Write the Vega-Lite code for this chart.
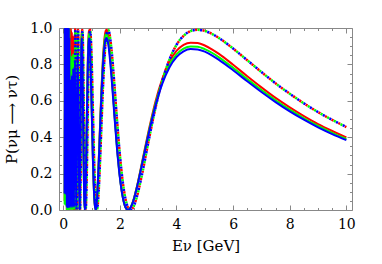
{
"$schema":"https://vega.github.io/schema/vega-lite/v6.json",
"width":293,"height":182,
"autosize":{"type":"none"},
"padding":{"left":59,"top":28,"right":30,"bottom":54},
"background":"white",
"config":{"font":"DejaVu Serif","view":{"stroke":"#888888","strokeWidth":1},
"axis":{"grid":false,"domain":false,"tickColor":"#888888","tickWidth":1,"labelFont":"DejaVu Serif","titleFont":"DejaVu Serif","labelColor":"black","titleColor":"black","labelFontSize":14,"titleFontSize":15,"titleFontWeight":"normal","labelFlush":false,"labelOverlap":false}},
"resolve":{"axis":{"x":"independent","y":"independent"}},
"datasets":{
"solid":[
{"E":0.05,"red":0.05,"green":0.03,"blue":0.09},
{"E":0.055,"red":1,"green":1,"blue":1},
{"E":0.06,"red":0.05,"green":0.03,"blue":0.09},
{"E":0.065,"red":1,"green":1,"blue":1},
{"E":0.07,"red":0.05,"green":0.03,"blue":0.09},
{"E":0.075,"red":1,"green":1,"blue":1},
{"E":0.08,"red":0.05,"green":0.03,"blue":0.09},
{"E":0.085,"red":1,"green":1,"blue":1},
{"E":0.09,"red":0.05,"green":0.03,"blue":0.09},
{"E":0.095,"red":1,"green":1,"blue":1},
{"E":0.1,"red":0.05,"green":0.03,"blue":0.09},
{"E":0.105,"red":1,"green":1,"blue":1},
{"E":0.109,"red":0.05,"green":0.03,"blue":0.09},
{"E":0.1116,"red":1,"green":1,"blue":1},
{"E":0.1144,"red":0.05,"green":0.03,"blue":0.09},
{"E":0.1174,"red":1,"green":1,"blue":1},
{"E":0.1205,"red":0.05,"green":0.03,"blue":0.09},
{"E":0.1237,"red":1,"green":1,"blue":1},
{"E":0.1271,"red":0,"green":0,"blue":0.015},
{"E":0.1308,"red":1,"green":1,"blue":1},
{"E":0.1346,"red":0,"green":0,"blue":0.015},
{"E":0.1387,"red":1,"green":1,"blue":1},
{"E":0.143,"red":0,"green":0,"blue":0.015},
{"E":0.1477,"red":1,"green":1,"blue":1},
{"E":0.1526,"red":0,"green":0,"blue":0.015},
{"E":0.1578,"red":1,"green":1,"blue":1},
{"E":0.1635,"red":0,"green":0,"blue":0.015},
{"E":0.1695,"red":1,"green":1,"blue":1},
{"E":0.1761,"red":0,"green":0,"blue":0.015},
{"E":0.1831,"red":1,"green":1,"blue":1},
{"E":0.1907,"red":0,"green":0,"blue":0.015},
{"E":0.199,"red":1,"green":1,"blue":1},
{"E":0.2081,"red":0,"green":0,"blue":0.015},
{"E":0.218,"red":1,"green":1,"blue":0.95},
{"E":0.2289,"red":0,"green":0,"blue":0.015},
{"E":0.2409,"red":1,"green":0.88,"blue":0.72},
{"E":0.2543,"red":0,"green":0,"blue":0.015},
{"E":0.2693,"red":1,"green":0.85,"blue":0.7},
{"E":0.2861,"red":0,"green":0,"blue":0.015},
{"E":0.3052,"red":0.98,"green":0.84,"blue":0.74},
{"E":0.3269,"red":0,"green":0,"blue":0.015},
{"E":0.3521,"red":0.96,"green":0.86,"blue":0.78},
{"E":0.3814,"red":0,"green":0,"blue":0.015},
{"E":0.4161,"red":1,"green":0.88,"blue":0.82},
{"E":0.4577,"red":0,"green":0,"blue":0.015},
{"E":0.5086,"red":0.95,"green":0.88,"blue":0.85},
{"E":0.572,"red":0,"green":0,"blue":0},
{"E":0.58,"red":0.028,"green":0.028,"blue":0.027},
{"E":0.6,"red":0.299,"green":0.293,"blue":0.285},
{"E":0.62,"red":0.674,"green":0.661,"blue":0.644},
{"E":0.64,"red":0.935,"green":0.916,"blue":0.892},
{"E":0.655,"red":0.99,"green":0.97,"blue":0.945},
{"E":0.68,"red":0.824,"green":0.807,"blue":0.786},
{"E":0.7,"red":0.555,"green":0.544,"blue":0.53},
{"E":0.72,"red":0.28,"green":0.275,"blue":0.268},
{"E":0.74,"red":0.082,"green":0.08,"blue":0.078},
{"E":0.763,"red":0,"green":0,"blue":0},
{"E":0.78,"red":0.042,"green":0.041,"blue":0.04},
{"E":0.81,"red":0.269,"green":0.263,"blue":0.256},
{"E":0.84,"red":0.574,"green":0.562,"blue":0.548},
{"E":0.87,"red":0.833,"green":0.816,"blue":0.795},
{"E":0.9,"red":0.972,"green":0.952,"blue":0.928},
{"E":0.92,"red":0.989,"green":0.969,"blue":0.944},
{"E":0.95,"red":0.912,"green":0.893,"blue":0.87},
{"E":1.0,"red":0.614,"green":0.602,"blue":0.586},
{"E":1.05,"red":0.283,"green":0.278,"blue":0.27},
{"E":1.1,"red":0.062,"green":0.061,"blue":0.059},
{"E":1.144,"red":0,"green":0,"blue":0},
{"E":1.17,"red":0.019,"green":0.018,"blue":0.018},
{"E":1.2,"red":0.081,"green":0.08,"blue":0.078},
{"E":1.25,"red":0.254,"green":0.249,"blue":0.242},
{"E":1.3,"red":0.462,"green":0.452,"blue":0.441},
{"E":1.35,"red":0.663,"green":0.649,"blue":0.632},
{"E":1.4,"red":0.823,"green":0.807,"blue":0.786},
{"E":1.45,"red":0.931,"green":0.912,"blue":0.889},
{"E":1.5,"red":0.984,"green":0.964,"blue":0.939},
{"E":1.526,"red":0.99,"green":0.97,"blue":0.945},
{"E":1.55,"red":0.985,"green":0.965,"blue":0.94},
{"E":1.6,"red":0.943,"green":0.924,"blue":0.901},
{"E":1.7,"red":0.777,"green":0.761,"blue":0.741},
{"E":1.8,"red":0.558,"green":0.547,"blue":0.533},
{"E":1.9,"red":0.352,"green":0.344,"blue":0.336},
{"E":2.0,"red":0.187,"green":0.183,"blue":0.179},
{"E":2.1,"red":0.075,"green":0.074,"blue":0.072},
{"E":2.2,"red":0.015,"green":0.015,"blue":0.015},
{"E":2.29,"red":0,"green":0,"blue":0},
{"E":2.4,"red":0.02,"green":0.02,"blue":0.019},
{"E":2.5,"red":0.065,"green":0.064,"blue":0.062},
{"E":2.6,"red":0.127,"green":0.124,"blue":0.122},
{"E":2.8,"red":0.274,"green":0.268,"blue":0.263},
{"E":3.0,"red":0.423,"green":0.414,"blue":0.407},
{"E":3.25,"red":0.591,"green":0.578,"blue":0.568},
{"E":3.5,"red":0.721,"green":0.706,"blue":0.694},
{"E":3.75,"red":0.814,"green":0.796,"blue":0.783},
{"E":4.0,"red":0.874,"green":0.855,"blue":0.84},
{"E":4.25,"red":0.907,"green":0.887,"blue":0.872},
{"E":4.5,"red":0.919,"green":0.899,"blue":0.884},
{"E":4.75,"red":0.917,"green":0.897,"blue":0.882},
{"E":5.0,"red":0.904,"green":0.884,"blue":0.87},
{"E":5.25,"red":0.883,"green":0.864,"blue":0.85},
{"E":5.5,"red":0.858,"green":0.839,"blue":0.825},
{"E":6.0,"red":0.798,"green":0.781,"blue":0.768},
{"E":6.5,"red":0.735,"green":0.719,"blue":0.707},
{"E":7.0,"red":0.674,"green":0.659,"blue":0.648},
{"E":7.5,"red":0.616,"green":0.603,"blue":0.593},
{"E":8.0,"red":0.564,"green":0.551,"blue":0.542},
{"E":8.5,"red":0.516,"green":0.504,"blue":0.496},
{"E":9.0,"red":0.472,"green":0.462,"blue":0.454},
{"E":9.5,"red":0.434,"green":0.424,"blue":0.417},
{"E":10.0,"red":0.399,"green":0.39,"blue":0.384}
],
"dotted":[
{"E":0.3957,"red":0,"green":0,"blue":0},
{"E":0.4317,"red":0.99,"green":0.99,"blue":0.99},
{"E":0.4749,"red":0,"green":0,"blue":0},
{"E":0.5277,"red":0.99,"green":0.99,"blue":0.99},
{"E":0.594,"red":0,"green":0,"blue":0},
{"E":0.6,"red":0.017,"green":0.017,"blue":0.017},
{"E":0.62,"red":0.256,"green":0.256,"blue":0.256},
{"E":0.64,"red":0.618,"green":0.618,"blue":0.618},
{"E":0.66,"red":0.9,"green":0.9,"blue":0.9},
{"E":0.68,"red":0.989,"green":0.989,"blue":0.989},
{"E":0.7,"red":0.881,"green":0.881,"blue":0.881},
{"E":0.72,"red":0.642,"green":0.642,"blue":0.642},
{"E":0.74,"red":0.369,"green":0.369,"blue":0.369},
{"E":0.76,"red":0.144,"green":0.144,"blue":0.144},
{"E":0.7915,"red":0,"green":0,"blue":0},
{"E":0.81,"red":0.045,"green":0.045,"blue":0.045},
{"E":0.84,"red":0.265,"green":0.265,"blue":0.265},
{"E":0.87,"red":0.559,"green":0.559,"blue":0.559},
{"E":0.9,"red":0.814,"green":0.814,"blue":0.814},
{"E":0.92,"red":0.927,"green":0.927,"blue":0.927},
{"E":0.95,"red":0.99,"green":0.99,"blue":0.99},
{"E":1.0,"red":0.844,"green":0.844,"blue":0.844},
{"E":1.05,"red":0.531,"green":0.531,"blue":0.531},
{"E":1.1,"red":0.226,"green":0.226,"blue":0.226},
{"E":1.14,"red":0.066,"green":0.066,"blue":0.066},
{"E":1.17,"red":0.009,"green":0.009,"blue":0.009},
{"E":1.187,"red":0,"green":0,"blue":0},
{"E":1.2,"red":0.004,"green":0.004,"blue":0.004},
{"E":1.25,"red":0.095,"green":0.095,"blue":0.095},
{"E":1.3,"red":0.266,"green":0.266,"blue":0.266},
{"E":1.35,"red":0.467,"green":0.467,"blue":0.467},
{"E":1.4,"red":0.66,"green":0.66,"blue":0.66},
{"E":1.45,"red":0.816,"green":0.816,"blue":0.816},
{"E":1.5,"red":0.924,"green":0.924,"blue":0.924},
{"E":1.55,"red":0.98,"green":0.98,"blue":0.98},
{"E":1.583,"red":0.99,"green":0.99,"blue":0.99},
{"E":1.6,"red":0.988,"green":0.988,"blue":0.988},
{"E":1.7,"red":0.89,"green":0.89,"blue":0.89},
{"E":1.8,"red":0.704,"green":0.704,"blue":0.704},
{"E":1.9,"red":0.494,"green":0.494,"blue":0.494},
{"E":2.0,"red":0.305,"green":0.305,"blue":0.305},
{"E":2.1,"red":0.158,"green":0.158,"blue":0.158},
{"E":2.2,"red":0.06,"green":0.06,"blue":0.06},
{"E":2.3,"red":0.01,"green":0.01,"blue":0.01},
{"E":2.375,"red":0,"green":0,"blue":0},
{"E":2.5,"red":0.024,"green":0.024,"blue":0.024},
{"E":2.6,"red":0.072,"green":0.072,"blue":0.072},
{"E":2.8,"red":0.208,"green":0.208,"blue":0.208},
{"E":3.0,"red":0.367,"green":0.367,"blue":0.367},
{"E":3.25,"red":0.555,"green":0.555,"blue":0.555},
{"E":3.5,"red":0.71,"green":0.71,"blue":0.71},
{"E":3.75,"red":0.826,"green":0.826,"blue":0.826},
{"E":4.0,"red":0.907,"green":0.907,"blue":0.907},
{"E":4.25,"red":0.957,"green":0.957,"blue":0.957},
{"E":4.5,"red":0.983,"green":0.983,"blue":0.983},
{"E":4.75,"red":0.99,"green":0.99,"blue":0.99},
{"E":5.0,"red":0.984,"green":0.984,"blue":0.984},
{"E":5.25,"red":0.968,"green":0.968,"blue":0.968},
{"E":5.5,"red":0.945,"green":0.945,"blue":0.945},
{"E":6.0,"red":0.887,"green":0.887,"blue":0.887},
{"E":6.5,"red":0.823,"green":0.823,"blue":0.823},
{"E":7.0,"red":0.758,"green":0.758,"blue":0.758},
{"E":7.5,"red":0.696,"green":0.696,"blue":0.696},
{"E":8.0,"red":0.639,"green":0.639,"blue":0.639},
{"E":8.5,"red":0.586,"green":0.586,"blue":0.586},
{"E":9.0,"red":0.538,"green":0.538,"blue":0.538},
{"E":9.5,"red":0.495,"green":0.495,"blue":0.495},
{"E":10.0,"red":0.456,"green":0.456,"blue":0.456}
]},
"layer":[
{"data":{"name":"solid"},
 "mark":{"type":"line","color":"#ff0000","strokeWidth":2,"interpolate":"monotone","clip":true},
 "encoding":{
  "x":{"field":"E","type":"quantitative","scale":{"domain":[-0.149,10.199],"nice":false,"zero":false},
   "axis":{"orient":"bottom","values":[0,0.5,1,1.5,2,2.5,3,3.5,4,4.5,5,5.5,6,6.5,7,7.5,8,8.5,9,9.5,10],
    "labelExpr":"datum.value % 2 === 0 ? format(datum.value,'d') : ''",
    "tickSize":{"condition":{"test":"datum.value % 2 === 0","value":-5},"value":-2.5},
    "labelPadding":12,"title":"Eν [GeV]","titlePadding":5}},
  "y":{"field":"red","type":"quantitative","scale":{"domain":[0,1],"nice":false,"zero":false},
   "axis":{"orient":"left","values":[0,0.05,0.1,0.15,0.2,0.25,0.3,0.35,0.4,0.45,0.5,0.55,0.6,0.65,0.7,0.75,0.8,0.85,0.9,0.95,1],
    "labelExpr":"abs(datum.value*5-round(datum.value*5))<0.001 ? format(datum.value,'.1f') : ''",
    "tickSize":{"condition":{"test":"abs(datum.value*5-round(datum.value*5))<0.001","value":-5},"value":-2.5},
    "labelPadding":12,"title":"P(νμ ⟶ ντ)","titlePadding":10}}}},
{"data":{"name":"dotted"},
 "mark":{"type":"line","color":"#ff0000","strokeWidth":2.5,"strokeDash":[2.2,5.3],"strokeDashOffset":0,"interpolate":"monotone","clip":true},
 "encoding":{
  "x":{"field":"E","type":"quantitative","scale":{"domain":[-0.149,10.199],"nice":false,"zero":false},
   "axis":{"orient":"top","values":[0,0.5,1,1.5,2,2.5,3,3.5,4,4.5,5,5.5,6,6.5,7,7.5,8,8.5,9,9.5,10],"labels":false,"title":null,
    "tickSize":{"condition":{"test":"datum.value % 2 === 0","value":-5},"value":-2.5}}},
  "y":{"field":"red","type":"quantitative","scale":{"domain":[0,1],"nice":false,"zero":false},
   "axis":{"orient":"right","values":[0,0.05,0.1,0.15,0.2,0.25,0.3,0.35,0.4,0.45,0.5,0.55,0.6,0.65,0.7,0.75,0.8,0.85,0.9,0.95,1],"labels":false,"title":null,
    "tickSize":{"condition":{"test":"abs(datum.value*5-round(datum.value*5))<0.001","value":-5},"value":-2.5}}}}},
{"data":{"name":"solid"},
 "mark":{"type":"line","color":"#00ff00","strokeWidth":2,"interpolate":"monotone","clip":true},
 "encoding":{
  "x":{"field":"E","type":"quantitative","scale":{"domain":[-0.149,10.199],"nice":false,"zero":false},"axis":null},
  "y":{"field":"green","type":"quantitative","scale":{"domain":[0,1],"nice":false,"zero":false},"axis":null}}},
{"data":{"name":"dotted"},
 "mark":{"type":"line","color":"#00ff00","strokeWidth":2.5,"strokeDash":[2.2,5.3],"strokeDashOffset":-2.5,"interpolate":"monotone","clip":true},
 "encoding":{
  "x":{"field":"E","type":"quantitative","scale":{"domain":[-0.149,10.199],"nice":false,"zero":false},"axis":null},
  "y":{"field":"green","type":"quantitative","scale":{"domain":[0,1],"nice":false,"zero":false},"axis":null}}},
{"data":{"name":"solid"},
 "mark":{"type":"line","color":"#0000ff","strokeWidth":2,"interpolate":"monotone","clip":true},
 "encoding":{
  "x":{"field":"E","type":"quantitative","scale":{"domain":[-0.149,10.199],"nice":false,"zero":false},"axis":null},
  "y":{"field":"blue","type":"quantitative","scale":{"domain":[0,1],"nice":false,"zero":false},"axis":null}}},
{"data":{"name":"dotted"},
 "mark":{"type":"line","color":"#0000ff","strokeWidth":2.5,"strokeDash":[2.2,5.3],"strokeDashOffset":-5,"interpolate":"monotone","clip":true},
 "encoding":{
  "x":{"field":"E","type":"quantitative","scale":{"domain":[-0.149,10.199],"nice":false,"zero":false},"axis":null},
  "y":{"field":"blue","type":"quantitative","scale":{"domain":[0,1],"nice":false,"zero":false},"axis":null}}}
]
}
